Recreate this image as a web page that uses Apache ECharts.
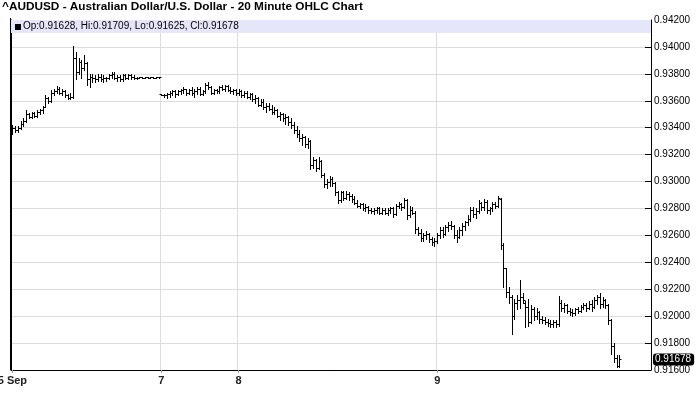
<!DOCTYPE html>
<html>
<head>
<meta charset="utf-8">
<script src="https://cdn.jsdelivr.net/npm/echarts@6/dist/echarts.min.js"></script>
<style>
  html, body { margin: 0; padding: 0; background: #fff; }
  #chart { width: 700px; height: 411px; }
</style>
</head>
<body>
<div id="chart"></div>
<script>
    // 20 minute bars, [open, high, low, close]
    var titleText = '^AUDUSD - Australian Dollar/U.S. Dollar - 20 Minute OHLC Chart';
    var dayLabels = ['5 Sep', '7', '8', '9'];

    var sep5Bars = [
        [0.9336, 0.9342, 0.9335, 0.9340], [0.9340, 0.9341, 0.9337, 0.9338], [0.9338, 0.9341, 0.9337, 0.9340],
        [0.9340, 0.9345, 0.9339, 0.9343], [0.9343, 0.9347, 0.9341, 0.9345], [0.9345, 0.9353, 0.9344, 0.9350],
        [0.9350, 0.9351, 0.9347, 0.9348], [0.9348, 0.9352, 0.9347, 0.9351], [0.9351, 0.9352, 0.9348, 0.9349],
        [0.9349, 0.9353, 0.9348, 0.9352], [0.9352, 0.9354, 0.9350, 0.9353], [0.9353, 0.9356, 0.9351, 0.9355],
        [0.9355, 0.9364, 0.9355, 0.9362], [0.9362, 0.9363, 0.9358, 0.9360], [0.9360, 0.9368, 0.9359, 0.9366],
        [0.9366, 0.9369, 0.9364, 0.9367], [0.9367, 0.9371, 0.9366, 0.9369], [0.9369, 0.9370, 0.9365, 0.9366],
        [0.9366, 0.9369, 0.9364, 0.9367], [0.9367, 0.9368, 0.9363, 0.9364], [0.9364, 0.9365, 0.9361, 0.9362],
        [0.9362, 0.9366, 0.9361, 0.9363], [0.9363, 0.9401, 0.9362, 0.9392], [0.9392, 0.9396, 0.9376, 0.9381],
        [0.9381, 0.9392, 0.9380, 0.9389], [0.9389, 0.9390, 0.9377, 0.9384], [0.9384, 0.9394, 0.9383, 0.9388],
        [0.9388, 0.9389, 0.9372, 0.9376], [0.9376, 0.9380, 0.9370, 0.9378], [0.9378, 0.9380, 0.9374, 0.9377],
        [0.9377, 0.9379, 0.9374, 0.9376], [0.9376, 0.9380, 0.9375, 0.9378], [0.9378, 0.9380, 0.9375, 0.9376],
        [0.9376, 0.9379, 0.9374, 0.9377], [0.9377, 0.9378, 0.9375, 0.9377], [0.9377, 0.9380, 0.9376, 0.9379],
        [0.9379, 0.9381, 0.9377, 0.9380], [0.9380, 0.9381, 0.9376, 0.9377], [0.9377, 0.9379, 0.9375, 0.9378],
        [0.9378, 0.9379, 0.9375, 0.9376], [0.9376, 0.9380, 0.9375, 0.9379], [0.9379, 0.9380, 0.9376, 0.9377],
        [0.9377, 0.9380, 0.9376, 0.9379], [0.9379, 0.9380, 0.9376, 0.9378], [0.9378, 0.9379, 0.9376, 0.9377],
        [0.9377, 0.9378, 0.9376, 0.9377], [0.9377, 0.9378, 0.9377, 0.9378], [0.9378, 0.9378, 0.9377, 0.9377],
        [0.9377, 0.9378, 0.9377, 0.9378], [0.9378, 0.9378, 0.9377, 0.9377], [0.9377, 0.9378, 0.9377, 0.9378],
        [0.9378, 0.9378, 0.9377, 0.9377], [0.9377, 0.9378, 0.9377, 0.9378], [0.9378, 0.9378, 0.9377, 0.9378]
    ];

    var sep7Bars = [
        [0.9365, 0.9365, 0.9364, 0.9364], [0.9364, 0.9365, 0.9363, 0.9364], [0.9364, 0.9366, 0.9362, 0.9365],
        [0.9365, 0.9367, 0.9363, 0.9366], [0.9366, 0.9368, 0.9364, 0.9367], [0.9367, 0.9368, 0.9363, 0.9365],
        [0.9365, 0.9368, 0.9364, 0.9367], [0.9367, 0.9369, 0.9365, 0.9368], [0.9368, 0.9370, 0.9366, 0.9369],
        [0.9369, 0.9369, 0.9364, 0.9366], [0.9366, 0.9369, 0.9365, 0.9368], [0.9368, 0.9370, 0.9364, 0.9366],
        [0.9366, 0.9369, 0.9363, 0.9367], [0.9367, 0.9370, 0.9365, 0.9369], [0.9369, 0.9370, 0.9364, 0.9365],
        [0.9365, 0.9368, 0.9364, 0.9367], [0.9367, 0.9373, 0.9366, 0.9372], [0.9372, 0.9374, 0.9369, 0.9370],
        [0.9370, 0.9371, 0.9365, 0.9366], [0.9366, 0.9369, 0.9365, 0.9368], [0.9368, 0.9369, 0.9366, 0.9367],
        [0.9367, 0.9371, 0.9366, 0.9370], [0.9370, 0.9372, 0.9368, 0.9369], [0.9369, 0.9372, 0.9367, 0.9371],
        [0.9371, 0.9372, 0.9367, 0.9368], [0.9368, 0.9370, 0.9366, 0.9367], [0.9367, 0.9369, 0.9365, 0.9368],
        [0.9368, 0.9369, 0.9364, 0.9366]
    ];

    var sep8Bars = [
        [0.9366, 0.9369, 0.9364, 0.9367], [0.9367, 0.9368, 0.9363, 0.9364], [0.9364, 0.9367, 0.9363, 0.9366],
        [0.9366, 0.9367, 0.9362, 0.9363], [0.9363, 0.9366, 0.9361, 0.9365], [0.9365, 0.9366, 0.9360, 0.9361],
        [0.9361, 0.9364, 0.9358, 0.9362], [0.9362, 0.9363, 0.9356, 0.9357], [0.9357, 0.9361, 0.9356, 0.9359],
        [0.9359, 0.9361, 0.9354, 0.9355], [0.9355, 0.9358, 0.9352, 0.9356], [0.9356, 0.9358, 0.9353, 0.9354],
        [0.9354, 0.9357, 0.9350, 0.9352], [0.9352, 0.9355, 0.9350, 0.9353], [0.9353, 0.9354, 0.9348, 0.9349],
        [0.9349, 0.9352, 0.9346, 0.9350], [0.9350, 0.9351, 0.9345, 0.9347], [0.9347, 0.9350, 0.9343, 0.9348],
        [0.9348, 0.9349, 0.9342, 0.9344], [0.9344, 0.9347, 0.9340, 0.9342], [0.9342, 0.9344, 0.9336, 0.9338],
        [0.9338, 0.9341, 0.9333, 0.9335], [0.9335, 0.9338, 0.9330, 0.9332], [0.9332, 0.9335, 0.9327, 0.9333],
        [0.9333, 0.9334, 0.9326, 0.9328], [0.9328, 0.9332, 0.9325, 0.9330], [0.9330, 0.9331, 0.9309, 0.9312],
        [0.9312, 0.9318, 0.9310, 0.9316], [0.9316, 0.9317, 0.9308, 0.9310], [0.9310, 0.9318, 0.9309, 0.9315],
        [0.9315, 0.9316, 0.9303, 0.9305], [0.9305, 0.9306, 0.9296, 0.9298], [0.9298, 0.9302, 0.9295, 0.9300],
        [0.9300, 0.9304, 0.9297, 0.9302], [0.9302, 0.9303, 0.9297, 0.9299], [0.9299, 0.9300, 0.9290, 0.9292],
        [0.9292, 0.9293, 0.9284, 0.9286], [0.9286, 0.9293, 0.9285, 0.9292], [0.9292, 0.9293, 0.9286, 0.9288],
        [0.9288, 0.9293, 0.9287, 0.9291], [0.9291, 0.9292, 0.9286, 0.9289], [0.9289, 0.9291, 0.9285, 0.9287],
        [0.9287, 0.9289, 0.9283, 0.9284], [0.9284, 0.9286, 0.9281, 0.9282], [0.9282, 0.9284, 0.9280, 0.9283],
        [0.9283, 0.9284, 0.9279, 0.9280], [0.9280, 0.9283, 0.9278, 0.9281], [0.9281, 0.9282, 0.9277, 0.9279],
        [0.9279, 0.9280, 0.9277, 0.9278], [0.9278, 0.9280, 0.9276, 0.9279], [0.9279, 0.9281, 0.9277, 0.9280],
        [0.9280, 0.9281, 0.9276, 0.9277], [0.9277, 0.9280, 0.9276, 0.9279], [0.9279, 0.9280, 0.9276, 0.9277],
        [0.9277, 0.9280, 0.9275, 0.9279], [0.9279, 0.9281, 0.9277, 0.9280], [0.9280, 0.9281, 0.9274, 0.9276],
        [0.9276, 0.9283, 0.9275, 0.9282], [0.9282, 0.9285, 0.9280, 0.9283], [0.9283, 0.9284, 0.9279, 0.9281],
        [0.9281, 0.9288, 0.9280, 0.9286], [0.9286, 0.9287, 0.9272, 0.9275], [0.9275, 0.9282, 0.9274, 0.9279],
        [0.9279, 0.9281, 0.9276, 0.9277], [0.9277, 0.9278, 0.9262, 0.9265], [0.9265, 0.9266, 0.9260, 0.9262],
        [0.9262, 0.9265, 0.9256, 0.9258], [0.9258, 0.9262, 0.9256, 0.9260], [0.9260, 0.9263, 0.9257, 0.9261],
        [0.9261, 0.9262, 0.9255, 0.9257], [0.9257, 0.9259, 0.9253, 0.9255], [0.9255, 0.9258, 0.9252, 0.9256]
    ];

    var sep9Bars = [
        [0.9256, 0.9262, 0.9254, 0.9260], [0.9260, 0.9266, 0.9258, 0.9264], [0.9264, 0.9266, 0.9259, 0.9261],
        [0.9261, 0.9268, 0.9260, 0.9266], [0.9266, 0.9270, 0.9263, 0.9268], [0.9268, 0.9271, 0.9265, 0.9267],
        [0.9267, 0.9268, 0.9258, 0.9260], [0.9260, 0.9264, 0.9255, 0.9259], [0.9259, 0.9266, 0.9258, 0.9264],
        [0.9264, 0.9269, 0.9260, 0.9267], [0.9267, 0.9271, 0.9264, 0.9270], [0.9270, 0.9275, 0.9268, 0.9272],
        [0.9272, 0.9281, 0.9271, 0.9279], [0.9279, 0.9281, 0.9274, 0.9276], [0.9276, 0.9280, 0.9273, 0.9278],
        [0.9278, 0.9286, 0.9277, 0.9284], [0.9284, 0.9285, 0.9279, 0.9281], [0.9281, 0.9287, 0.9279, 0.9285],
        [0.9285, 0.9286, 0.9277, 0.9279], [0.9279, 0.9281, 0.9276, 0.9280], [0.9280, 0.9285, 0.9278, 0.9283],
        [0.9283, 0.9285, 0.9280, 0.9282], [0.9282, 0.9289, 0.9281, 0.9288], [0.9287, 0.9288, 0.9250, 0.9253],
        [0.9253, 0.9254, 0.9222, 0.9236], [0.9236, 0.9236, 0.9214, 0.9218], [0.9218, 0.9222, 0.9210, 0.9214],
        [0.9214, 0.9216, 0.9187, 0.9200], [0.9200, 0.9213, 0.9198, 0.9210], [0.9210, 0.9216, 0.9205, 0.9212],
        [0.9212, 0.9227, 0.9206, 0.9214], [0.9214, 0.9217, 0.9210, 0.9212], [0.9210, 0.9211, 0.9192, 0.9207],
        [0.9207, 0.9213, 0.9193, 0.9196], [0.9196, 0.9208, 0.9195, 0.9205], [0.9205, 0.9207, 0.9197, 0.9200],
        [0.9200, 0.9206, 0.9198, 0.9203], [0.9203, 0.9204, 0.9195, 0.9198], [0.9198, 0.9200, 0.9195, 0.9197],
        [0.9197, 0.9199, 0.9194, 0.9196], [0.9196, 0.9198, 0.9193, 0.9195], [0.9195, 0.9197, 0.9192, 0.9194],
        [0.9194, 0.9197, 0.9192, 0.9196], [0.9196, 0.9197, 0.9192, 0.9194], [0.9194, 0.9215, 0.9193, 0.9210],
        [0.9210, 0.9212, 0.9204, 0.9206], [0.9206, 0.9210, 0.9203, 0.9208], [0.9208, 0.9209, 0.9202, 0.9204],
        [0.9204, 0.9206, 0.9201, 0.9203], [0.9203, 0.9205, 0.9200, 0.9202], [0.9202, 0.9206, 0.9201, 0.9205],
        [0.9205, 0.9207, 0.9202, 0.9204], [0.9204, 0.9208, 0.9203, 0.9207], [0.9207, 0.9210, 0.9205, 0.9208],
        [0.9208, 0.9210, 0.9204, 0.9206], [0.9206, 0.9211, 0.9205, 0.9209], [0.9209, 0.9212, 0.9204, 0.9207],
        [0.9207, 0.9214, 0.9206, 0.9212], [0.9212, 0.9216, 0.9209, 0.9214], [0.9214, 0.9217, 0.9206, 0.9209],
        [0.9209, 0.9214, 0.9207, 0.9212], [0.9212, 0.9213, 0.9206, 0.9208], [0.9208, 0.9209, 0.9194, 0.9197],
        [0.9197, 0.9198, 0.9172, 0.9178], [0.9178, 0.9180, 0.9166, 0.9169], [0.9169, 0.9171, 0.9162, 0.9163],
        [0.91628, 0.91709, 0.91625, 0.91678]
    ];

    var priceMin = 0.916;
    var priceMax = 0.942;
    var priceStep = 0.002;
    var slotCount = 232; // 20 min slots across the axis, the last ones still empty

    // categories: first bar of each day carries the day label
    var categories = [];
    var ohlc = [];
    [sep5Bars, sep7Bars, sep8Bars, sep9Bars].forEach(function (day, d) {
        day.forEach(function (b, i) {
            categories.push(i === 0 ? dayLabels[d] : '');
            ohlc.push([ohlc.length, b[0], b[1], b[2], b[3]]);
        });
    });
    while (categories.length < slotCount) categories.push('');

    var last = ohlc[ohlc.length - 1];
    var infoText = 'Op:' + last[1].toFixed(5) + ', Hi:' + last[2].toFixed(5) +
        ', Lo:' + last[3].toFixed(5) + ', Cl:' + last[4].toFixed(5);

    function isDayStart(index, value) {
        return value !== '';
    }

    function renderOhlc(params, api) {
        var idx = api.value(0);
        var o = api.coord([idx, api.value(1)]);
        var h = api.coord([idx, api.value(2)]);
        var l = api.coord([idx, api.value(3)]);
        var c = api.coord([idx, api.value(4)]);
        var cx = Math.round(o[0]) + 0.5;
        var w = 2;
        var st = { stroke: '#000', lineWidth: 1 };
        var oy = Math.round(o[1]) + 0.5, cy = Math.round(c[1]) + 0.5;
        return {
            type: 'group',
            children: [
                { type: 'line', shape: { x1: cx, y1: Math.round(h[1]), x2: cx, y2: Math.round(l[1]) + 1 }, style: st },
                { type: 'line', shape: { x1: cx - w, y1: oy, x2: cx, y2: oy }, style: st },
                { type: 'line', shape: { x1: cx, y1: cy, x2: cx + w, y2: cy }, style: st }
            ]
        };
    }

    var chart = echarts.init(document.getElementById('chart'));
    var option = {
        animation: false,
        backgroundColor: '#fff',
        textStyle: { fontFamily: 'Liberation Sans, Arial, sans-serif' },
        title: {
            text: titleText,
            left: 2,
            top: 1,
            padding: 0,
            textStyle: { fontSize: 11.8, fontWeight: 'bold', color: '#000', fontFamily: 'Liberation Sans, Arial, sans-serif' }
        },
        grid: { left: 11, right: 49, top: 20, bottom: 41, containLabel: false, outerBoundsMode: 'none' },
        xAxis: {
            type: 'category',
            data: categories,
            boundaryGap: true,
            axisLine: { lineStyle: { color: '#000', width: 1 } },
            axisTick: { show: true, interval: isDayStart, alignWithLabel: true, length: 3, lineStyle: { color: '#999' } },
            axisLabel: {
                interval: isDayStart,
                fontSize: 11,
                fontWeight: 'bold',
                color: '#222',
                margin: 5,
                hideOverlap: false
            },
            splitLine: { show: true, interval: isDayStart, lineStyle: { color: '#dcdcdc', width: 1 } }
        },
        yAxis: [
            {
                type: 'value',
                position: 'right',
                min: priceMin,
                max: priceMax,
                interval: priceStep,
                scale: true,
                axisLine: { show: true, lineStyle: { color: '#000' } },
                axisTick: { show: true, inside: true, length: 6, lineStyle: { color: '#000' } },
                axisLabel: {
                    fontSize: 10,
                    color: '#000',
                    margin: 3,
                    formatter: function (v) { return v.toFixed(5); }
                },
                splitLine: { lineStyle: { color: '#dcdcdc', width: 1 } },
                axisPointer: {
                    show: true,
                    type: 'line',
                    snap: false,
                    status: 'show',
                    value: last[4],
                    triggerTooltip: false,
                    lineStyle: { opacity: 0 },
                    label: {
                        show: true,
                        backgroundColor: '#000',
                        color: '#fff',
                        fontSize: 10,
                        padding: [1, 3, 1, 2],
                        margin: 2,
                        formatter: function (p) { return Number(p.value).toFixed(5); }
                    },
                    handle: { show: false }
                }
            },
            {
                type: 'value',
                position: 'left',
                min: priceMin,
                max: priceMax,
                axisLine: { show: true, onZero: false, lineStyle: { color: '#000' } },
                axisTick: { show: false },
                axisLabel: { show: false },
                splitLine: { show: false }
            }
        ],
        graphic: [
            {
                type: 'rect',
                left: 11,
                top: 20,
                shape: { width: 640, height: 13 },
                style: { fill: '#e6e6fa' },
                z: 10
            },
            {
                // left frame edge of the plot
                type: 'line',
                shape: { x1: 10.5, y1: 18, x2: 10.5, y2: 370 },
                style: { stroke: '#000', lineWidth: 1 },
                z: 12
            },
            {
                type: 'rect',
                left: 15,
                top: 24,
                shape: { width: 6, height: 6 },
                style: { fill: '#000' },
                z: 11
            },
            {
                type: 'text',
                left: 23,
                top: 21,
                style: { text: infoText, fill: '#000', font: '10px Liberation Sans, Arial, sans-serif' },
                z: 11
            }
        ],
        series: [
            {
                name: 'AUDUSD',
                type: 'custom',
                renderItem: renderOhlc,
                encode: { x: 0, y: [1, 2, 3, 4] },
                data: ohlc,
                clip: true
            }
        ]
    };
    chart.setOption(option, true);
    window.addEventListener('resize', function () {
        chart.resize();
    });
</script>
</body>
</html>
